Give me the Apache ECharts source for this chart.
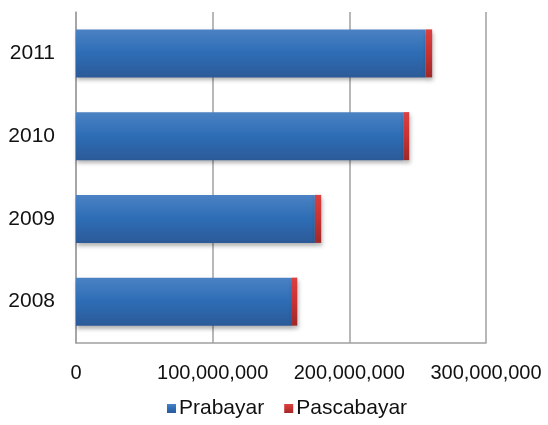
<!DOCTYPE html>
<html><head><meta charset="utf-8">
<script src="https://cdn.jsdelivr.net/npm/echarts@6/dist/echarts.min.js"></script>
<style>html,body{margin:0;padding:0;background:#fff}#c{width:548px;height:425px}</style>
</head><body><div id="c"></div>
<script>
var categories = ['2008', '2009', '2010', '2011'];
var prabayar = [158000000, 174800000, 239400000, 255800000];
var pascabayar = [3900000, 4600000, 4400000, 4800000];
var xTicks = [0, 100000000, 200000000, 300000000];

var chart = echarts.init(document.getElementById('c'));
var font = 'Liberation Sans';
function fmt(v){ return String(v).replace(/\B(?=(\d{3})+(?!\d))/g, ','); }
chart.setOption({
  animation: false,
  textStyle: { fontFamily: font },
  grid: { left: 76, right: 62, top: 12, bottom: 82 },
  legend: {
    bottom: 1, left: 162, itemWidth: 9, itemHeight: 9, itemGap: 20,
    icon: 'rect',
    textStyle: { fontFamily: font, fontSize: 21, color: '#111', padding: [0,0,0,-2] },
    data: ['Prabayar', 'Pascabayar']
  },
  xAxis: {
    type: 'value', min: xTicks[0], max: xTicks[xTicks.length-1], interval: 100000000,
    axisLine: { show: true, lineStyle: { color: '#a0a0a0', width: 1.5 } },
    axisTick: { show: false },
    splitLine: { show: true, lineStyle: { color: '#a0a0a0', width: 1.5 } },
    axisLabel: { fontFamily: font, fontSize: 20, color: '#111', margin: 20, formatter: fmt }
  },
  yAxis: {
    type: 'category', data: categories,
    axisLine: { show: true, lineStyle: { color: '#a0a0a0', width: 1.5 } },
    axisTick: { show: false },
    axisLabel: { fontFamily: font, fontSize: 21, color: '#111', margin: 21 }
  },
  series: [
    { name: 'Prabayar', type: 'bar', stack: 's', barWidth: 48, data: prabayar,
      itemStyle: {
        color: new echarts.graphic.LinearGradient(0,0,0,1,[
          {offset:0,color:'#4b82c4'},{offset:0.5,color:'#2d6db5'},{offset:1,color:'#2c5a98'}]),
        shadowColor: 'rgba(0,0,0,0.3)', shadowBlur: 4, shadowOffsetY: 3, shadowOffsetX: 1
      } },
    { name: 'Pascabayar', type: 'bar', stack: 's', barWidth: 48, data: pascabayar,
      itemStyle: {
        color: new echarts.graphic.LinearGradient(0,0,0,1,[
          {offset:0,color:'#dc4040'},{offset:0.5,color:'#c83232'},{offset:1,color:'#a02828'}]),
        shadowColor: 'rgba(0,0,0,0.3)', shadowBlur: 4, shadowOffsetY: 3, shadowOffsetX: 1
      } }
  ]
});
</script></body></html>
